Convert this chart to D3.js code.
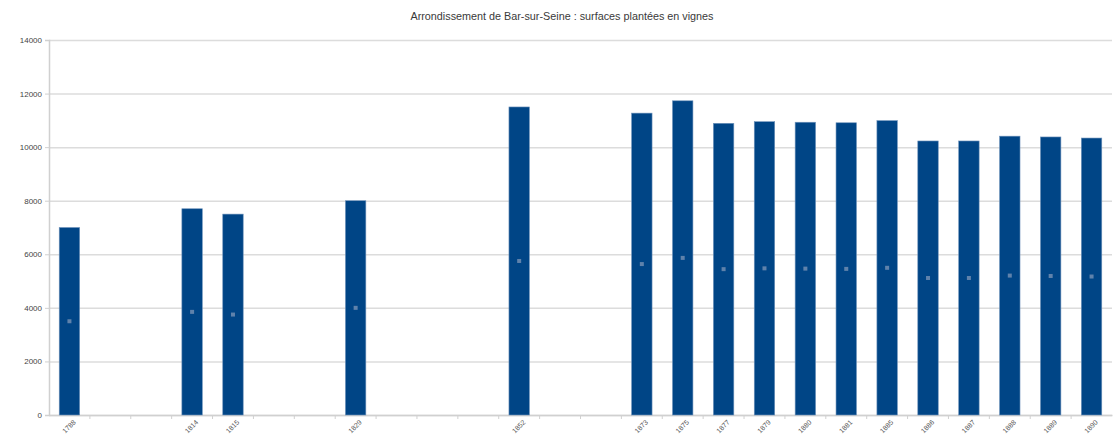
<!DOCTYPE html>
<html lang="fr">
<head>
<meta charset="UTF-8">
<title>Bar-sur-Seine</title>
<script src="https://d3js.org/d3.v7.min.js"></script>
<style>
  body { margin: 0; background: #fff; }
  text { font-family: "Liberation Sans", Arial, sans-serif; }
</style>
</head>
<body>
<div id="chart"></div>
<script>
  // categories on the axis (blank ones are empty slots)
  var years = ["1788", "", "", "1814", "1815", "", "", "1829", "", "", "", "1852", "", "",
               "1873", "1875", "1877", "1879", "1880", "1881", "1885", "1886", "1887", "1888", "1889", "1890"];
  var barYears = ["1788", "1814", "1815", "1829", "1852", "1873", "1875", "1877", "1879", "1880",
                  "1881", "1885", "1886", "1887", "1888", "1889", "1890"];
  var surfaces = [7000, 7700, 7500, 8000, 11500, 11270, 11730, 10890, 10950, 10930,
                  10910, 10990, 10230, 10230, 10410, 10380, 10340];
  var yTicks = [0, 2000, 4000, 6000, 8000, 10000, 12000, 14000];
  var title = "Arrondissement de Bar-sur-Seine : surfaces plantées en vignes";

  var width = 1117, height = 436;
  var plotLeft = 49, plotRight = 1112, plotTop = 40, plotBottom = 415;

  var data = barYears.map(function (y, i) { return {key: y, value: surfaces[i]}; });
  var slots = years.map(function (y, i) { return i + ":" + y; });
  var slotOf = {};
  slots.forEach(function (s, i) { if (years[i]) slotOf[years[i]] = s; });

  var xScale = d3.scaleBand().domain(slots).range([plotLeft, plotRight]).paddingInner(0.5).paddingOuter(0.25);
  var yScale = d3.scaleLinear().domain([0, 14000]).range([plotBottom, plotTop]);

  var svg = d3.select("#chart").append("svg")
    .attr("width", width).attr("height", height);

  svg.append("text")
    .attr("x", 562).attr("y", 20)
    .attr("text-anchor", "middle")
    .style("font-size", "10.8px").style("fill", "#3a3a3a")
    .text(title);

  // grid
  var grid = d3.axisLeft(yScale).tickValues(yTicks).tickSize(-(plotRight - plotLeft)).tickFormat("");
  svg.append("g").attr("transform", "translate(" + plotLeft + ",0)").call(grid)
    .call(function (g) { g.select(".domain").remove(); })
    .selectAll("line").attr("stroke", "#dcdcdc").attr("stroke-width", 1.5);

  // y axis
  var yAxis = d3.axisLeft(yScale).tickValues(yTicks).tickSize(4).tickPadding(3).tickFormat(d3.format("d"));
  var gy = svg.append("g").attr("transform", "translate(" + plotLeft + ",0)").call(yAxis);
  gy.select(".domain").attr("stroke", "#d0d0d0").attr("stroke-width", 1.5);
  gy.selectAll("line").attr("stroke", "#d0d0d0");
  gy.selectAll("text").style("font-size", "8px").style("fill", "#444")
    .style("font-family", "'Liberation Sans', Arial, sans-serif");

  // x axis : ticks between categories
  var gap = xScale.step() - xScale.bandwidth();
  var xAxis = d3.axisBottom(xScale).tickSize(0).tickPadding(0).tickFormat(function (d) { return d.split(":")[1]; });
  var gx = svg.append("g").attr("transform", "translate(0," + plotBottom + ")").call(xAxis);
  gx.select(".domain").attr("stroke", "#d0d0d0").attr("stroke-width", 1.5);
  gx.selectAll("text")
    .style("font-size", "7px").style("fill", "#555")
    .style("font-family", "'Liberation Sans', Arial, sans-serif")
    .attr("text-anchor", "end")
    .attr("y", 0).attr("dy", "0.35em")
    .attr("transform", "translate(5,6) rotate(-45)");
  gx.selectAll(".sep").data(slots.slice(1)).join("line")
    .attr("class", "sep")
    .attr("x1", function (d) { return xScale(d) - gap / 2; })
    .attr("x2", function (d) { return xScale(d) - gap / 2; })
    .attr("y1", 0).attr("y2", 4)
    .attr("stroke", "#d0d0d0");

  // bars
  svg.append("g").selectAll("rect").data(data).join("rect")
    .attr("x", function (d) { return xScale(slotOf[d.key]); })
    .attr("width", xScale.bandwidth())
    .attr("y", function (d) { return yScale(d.value); })
    .attr("height", function (d) { return plotBottom - yScale(d.value); })
    .attr("fill", "#004586")
    .attr("stroke", "#6f93bb").attr("stroke-width", 0.6);

  // small marks at half height
  svg.append("g").selectAll("rect").data(data).join("rect")
    .attr("x", function (d) { return xScale(slotOf[d.key]) + xScale.bandwidth() / 2 - 2; })
    .attr("y", function (d) { return yScale(d.value / 2) - 2; })
    .attr("width", 4).attr("height", 4)
    .attr("fill", "#5f82ab");
</script>
</body>
</html>
